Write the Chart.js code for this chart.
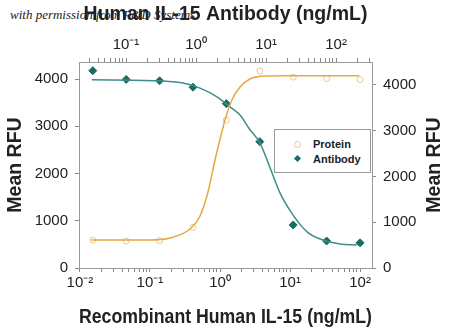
<!DOCTYPE html>
<html>
<head>
<meta charset="utf-8">
<script src="https://cdn.jsdelivr.net/npm/chart.js@4.4.1/dist/chart.umd.min.js"></script>
<style>
  html, body { margin: 0; padding: 0; background: #fff; }
  #wrap { position: relative; width: 450px; height: 329px; overflow: hidden; }
  #wm { position: absolute; left: 10px; top: 7px; font: italic 13px "Liberation Serif", serif; color: #222; white-space: nowrap; }
  #c { position: absolute; left: 0; top: 0; }
  #legend { position: absolute; left: 274px; top: 129px; width: 95px; height: 42px; border: 1px solid #999; background: #fff;
            font: bold 11px "Liberation Sans", Arial, sans-serif; color: #222; }
  .row { position: absolute; left: 0; height: 14px; line-height: 14px; }
  .row span { position: absolute; left: 38px; white-space: nowrap; }
  .circ { position: absolute; left: 19px; top: 4px; width: 5px; height: 5px; border: 1px solid #EBC68E; border-radius: 50%; }
  .dia { position: absolute; left: 20px; top: 4px; width: 5px; height: 5px; background: #1C6B5F; transform: rotate(45deg); }
</style>
</head>
<body>
<div id="wrap">
  <div id="wm">with permission from R&amp;D Systems</div>
  <canvas id="c" width="450" height="329"></canvas>
  <div id="legend">
    <div class="row" style="top:7px"><i class="circ"></i><span>Protein</span></div>
    <div class="row" style="top:22px"><i class="dia"></i><span>Antibody</span></div>
  </div>
</div>
<script>
// Recombinant Human IL-15 (bottom axis, left axis)
const proteinConc = [0.0152, 0.0457, 0.137, 0.412, 1.23, 3.70, 11.1, 33.3, 100];
const proteinRFU  = [590, 570, 580, 860, 3130, 4170, 4040, 4010, 3990];
const proteinFitConc = [0.0144, 0.1, 0.193, 0.373, 0.518, 0.674, 0.849, 1.18, 1.48, 1.93, 2.68, 4.39, 10, 97];
const proteinFitRFU  = [593, 593, 635, 825, 1100, 1608, 2286, 3132, 3556, 3831, 4000, 4063, 4070, 4070];

// Human IL-15 Antibody (top axis, right axis)
const antibodyConc = [0.0335, 0.1005, 0.3015, 0.905, 2.71, 8.14, 24.4, 73.3, 220];
const antibodyRFU  = [4310, 4120, 4090, 3950, 3590, 2760, 940, 590, 550];
const antibodyFitConc = [0.0326, 0.286, 0.651, 1.14, 1.99, 3.06, 4.25, 5.9, 8.2, 11.4, 15.8, 24.2, 38.5, 65, 114, 199];
const antibodyFitRFU  = [4110, 4090, 4040, 3930, 3740, 3520, 3340, 3020, 2730, 2190, 1640, 1160, 790, 610, 525, 505];

const yTicks = [0, 1000, 2000, 3000, 4000];
const supers = { '-': '\u207B', '0': '\u2070', '1': '\u00B9', '2': '\u00B2', '3': '\u00B3' };

const FONT = '"Liberation Sans", Arial, sans-serif';
const textColor = '#222';
const axisColor = '#999';

function pts(xs, ys) {
  return xs.map((x, i) => ({ x: x, y: ys[i] }));
}

function logTicks(scale) {
  const ticks = [];
  for (let e = -3; e <= 3; e++) {
    for (let k = 1; k <= 9; k++) {
      const v = k * Math.pow(10, e);
      if (v >= scale.min && v <= scale.max) ticks.push({ value: v, major: k === 1 });
    }
  }
  scale.ticks = ticks;
}

function logLabel(v) {
  const e = Math.round(Math.log10(v));
  if (Math.abs(v - Math.pow(10, e)) > 1e-9 * Math.pow(10, e)) return '';
  return '10' + String(e).split('').map(c => supers[c]).join('');
}

const gridOpts = { display: true, drawOnChartArea: false, drawTicks: true, tickLength: 4, color: '#888' };
const borderOpts = { display: true, color: axisColor, width: 1 };

const rightTitle = {
  id: 'rightTitle',
  afterDraw(chart) {
    const ctx = chart.ctx, a = chart.chartArea;
    ctx.save();
    ctx.translate(435, (a.top + a.bottom) / 2);
    ctx.rotate(-Math.PI / 2);
    ctx.font = 'bold 19.5px ' + FONT;
    ctx.fillStyle = textColor;
    ctx.textAlign = 'center';
    ctx.textBaseline = 'middle';
    ctx.fillText('Mean RFU', 0, 0);
    ctx.restore();
  }
};

new Chart(document.getElementById('c'), {
  type: 'scatter',
  data: {
    datasets: [
      {
        label: 'Protein fit',
        data: pts(proteinFitConc, proteinFitRFU),
        xAxisID: 'x', yAxisID: 'y',
        showLine: true, pointRadius: 0, borderColor: '#E8A840', borderWidth: 1.5,
        cubicInterpolationMode: 'monotone'
      },
      {
        label: 'Antibody fit',
        data: pts(antibodyFitConc, antibodyFitRFU),
        xAxisID: 'x2', yAxisID: 'y2',
        showLine: true, pointRadius: 0, borderColor: '#3D8F89', borderWidth: 1.5,
        cubicInterpolationMode: 'monotone'
      },
      {
        label: 'Protein',
        data: pts(proteinConc, proteinRFU),
        xAxisID: 'x', yAxisID: 'y',
        pointStyle: 'circle', pointRadius: 3, borderWidth: 1,
        borderColor: '#EBC68E', backgroundColor: 'rgba(255,255,255,0)'
      },
      {
        label: 'Antibody',
        data: pts(antibodyConc, antibodyRFU),
        xAxisID: 'x2', yAxisID: 'y2',
        pointStyle: 'rectRot', pointRadius: 4, borderWidth: 1,
        borderColor: '#1C6B5F', backgroundColor: '#1C6B5F'
      }
    ]
  },
  options: {
    responsive: false,
    animation: false,
    devicePixelRatio: 1,
    layout: { padding: 0 },
    plugins: { legend: { display: false }, tooltip: { enabled: false } },
    scales: {
      x: {
        type: 'logarithmic', position: 'bottom', min: 0.0097, max: 148,
        afterBuildTicks: logTicks,
        afterFit: s => { s.height = 61; },
        grid: gridOpts, border: borderOpts,
        ticks: { autoSkip: false, maxRotation: 0, padding: 2, color: textColor, font: { family: FONT, size: 15 }, callback: logLabel },
        title: { display: true, text: 'Recombinant Human IL-15 (ng/mL)', color: textColor, padding: 0,
                 font: { family: FONT, size: 19.5, weight: 'bold', lineHeight: 1.2 } }
      },
      x2: {
        type: 'logarithmic', position: 'top', min: 0.0213, max: 326,
        afterBuildTicks: logTicks,
        afterFit: s => { s.height = 62; },
        grid: gridOpts, border: borderOpts,
        ticks: { autoSkip: false, maxRotation: 0, padding: 4, color: textColor, font: { family: FONT, size: 15 }, callback: logLabel },
        title: { display: true, text: 'Human IL-15 Antibody (ng/mL)', color: textColor, padding: { top: 3, bottom: 0 },
                 font: { family: FONT, size: 19.5, weight: 'bold', lineHeight: 1.2 } }
      },
      y: {
        type: 'linear', position: 'left', min: 0, max: 4360,
        afterBuildTicks: s => { s.ticks = yTicks.map(v => ({ value: v })); },
        afterFit: s => { s.width = 79; },
        grid: gridOpts, border: borderOpts,
        ticks: { padding: 7, color: textColor, font: { family: FONT, size: 15 }, callback: v => String(v) },
        title: { display: true, text: 'Mean RFU', color: textColor, padding: { top: 4, bottom: 0 },
                 font: { family: FONT, size: 19.5, weight: 'bold', lineHeight: 1.2 } }
      },
      y2: {
        type: 'linear', position: 'right', min: 0, max: 4500,
        afterBuildTicks: s => { s.ticks = yTicks.map(v => ({ value: v })); },
        afterFit: s => { s.width = 78; },
        grid: gridOpts, border: borderOpts,
        ticks: { padding: 7, color: textColor, font: { family: FONT, size: 15 }, callback: v => String(v) },
        title: { display: false }
      }
    }
  },
  plugins: [rightTitle]
});
</script>
</body>
</html>
